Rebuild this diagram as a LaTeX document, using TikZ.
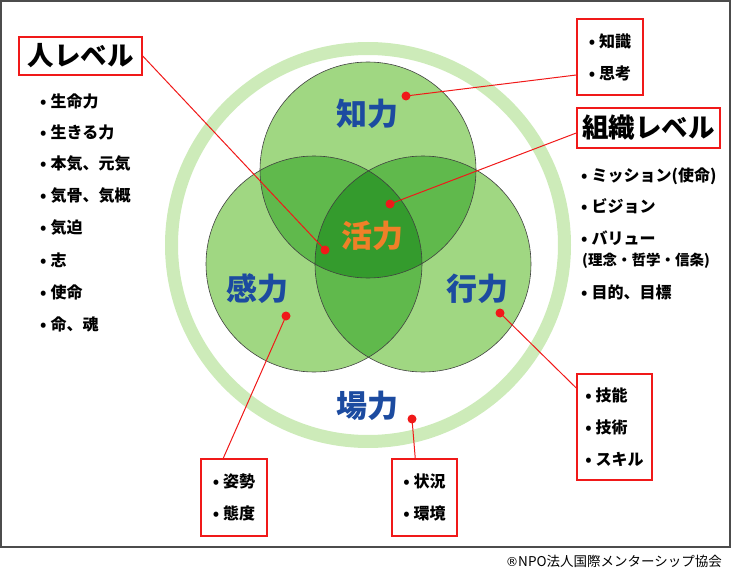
\documentclass[tikz,border=0pt]{standalone}
\usepackage{fontspec}
\newfontfamily\jp{Noto Sans CJK JP}[BoldFont={Noto Sans CJK JP Black}]
\newfontfamily\symfont{DejaVu Sans}
\newcommand{\bul}{•\hspace{4pt}}
\definecolor{kblue}{RGB}{28,75,160}
\definecolor{korange}{RGB}{240,128,40}
\definecolor{kred}{RGB}{240,25,25}
\definecolor{ringgreen}{RGB}{205,235,185}
\definecolor{lightgreen}{RGB}{160,215,130}
\definecolor{midgreen}{RGB}{96,185,76}
\definecolor{darkgreen}{RGB}{52,155,45}
\tikzset{
  redbox/.style={draw=kred, line width=1.5pt, align=left, inner sep=0pt},
  redline/.style={draw=kred, line width=1pt},
  reddot/.style={circle, fill=kred, inner sep=0pt, minimum size=9pt},
  power/.style={font=\jp\bfseries\fontsize{31}{31}\selectfont, text=kblue},
  level/.style={font=\jp\bfseries\fontsize{26.5}{26.5}\selectfont},
  item/.style={font=\jp\bfseries\fontsize{16}{32}\selectfont, anchor=west, inner sep=0pt},
  venn/.style={draw=black!75, line width=0.6pt}
}
\begin{document}
\begin{tikzpicture}[x=1pt,y=-1pt]
                \useasboundingbox (0,0) rectangle (732,586);
                \draw[gray!60!black, line width=1.3pt] (1,1) rectangle (730,547);
                % circles
                \coordinate (chi) at (368,170);
                \coordinate (kan) at (314,264);
                \coordinate (kou) at (423,264);
                \draw[ringgreen, line width=13pt] (368,245) circle [radius=196.5pt];
                \fill[lightgreen] (chi) circle [radius=108pt];
                \fill[lightgreen] (kan) circle [radius=108pt];
                \fill[lightgreen] (kou) circle [radius=108pt];
                \begin{scope}
                    \clip (chi) circle [radius=108pt];
                    \fill[midgreen] (kan) circle [radius=108pt];
                    \fill[midgreen] (kou) circle [radius=108pt];
                \end{scope}
                \begin{scope}
                    \clip (kan) circle [radius=108pt];
                    \fill[midgreen] (kou) circle [radius=108pt];
                \end{scope}
                \begin{scope}
                    \clip (chi) circle [radius=108pt];
                    \clip (kan) circle [radius=108pt];
                    \fill[darkgreen] (kou) circle [radius=108pt];
                \end{scope}
                \draw[venn] (chi) circle [radius=108pt];
                \draw[venn] (kan) circle [radius=108pt];
                \draw[venn] (kou) circle [radius=108pt];
                % labels in the circles
                \node[power] (chiryoku) at (367,114) {知力};
                \node[power, text=korange] (katsuryoku) at (372,236) {活力};
                \node[power] (kanryoku) at (257,289) {感力};
                \node[power] (kouryoku) at (477,289) {行力};
                \node[power] (baryoku) at (367,406) {場力};
                % boxes
                \node[redbox, level, minimum width=123pt, minimum height=38pt] (hito) at (80.5,56) {人レベル};
                \node[redbox, level, minimum width=143pt, minimum height=40pt] (soshiki) at (648.5,128) {組織レベル};
                \node[redbox, item, anchor=center, minimum width=66pt, minimum height=76pt] (chishiki) at (610,57) {\bul 知識\\\bul 思考};
                \node[redbox, item, anchor=center, minimum width=75pt, minimum height=106pt] (ginou) at (614.5,427) {\bul 技能\\\bul 技術\\\bul スキル};
                \node[redbox, item, anchor=center, minimum width=66pt, minimum height=77pt] (shisei) at (234,497.5) {\bul 姿勢\\\bul 態度};
                \node[redbox, item, anchor=center, minimum width=65pt, minimum height=77pt] (joukyou) at (424.5,497.5) {\bul 状況\\\bul 環境};
                % left list
                \node[item] (h1) at (40,101) {\bul 生命力};
                \node[item] (h2) at (40,132) {\bul 生きる力};
                \node[item] (h3) at (40,164) {\bul 本気、元気};
                \node[item] (h4) at (40,196) {\bul 気骨、気概};
                \node[item] (h5) at (40,228) {\bul 気迫};
                \node[item] (h6) at (40,260) {\bul 志};
                \node[item] (h7) at (40,292) {\bul 使命};
                \node[item] (h8) at (40,324) {\bul 命、魂};
                % right list
                \node[item] (s1) at (581,176) {\bul ミッション(使命)};
                \node[item] (s2) at (581,206) {\bul ビジョン};
                \node[item] (s3) at (581,238) {\bul バリュー};
                \node[item, font=\jp\bfseries\fontsize{14.5}{14.5}\selectfont] (s4) at (582,261) {(理念・哲学・信条)};
                \node[item] (s5) at (581,292) {\bul 目的、目標};
                % red dots and lines
                \node[reddot] (dchi) at (406,96) {};
                \node[reddot] (dkatsu1) at (390,204) {};
                \node[reddot] (dkatsu2) at (325,250) {};
                \node[reddot] (dkan) at (286,316) {};
                \node[reddot] (dkou) at (500,313) {};
                \node[reddot] (dba) at (412,419) {};
                \draw[redline] (hito.east) -- (dkatsu2.center);
                \draw[redline] ([yshift=-18pt]chishiki.west) -- (dchi.center);
                \draw[redline] ([yshift=-5pt]soshiki.west) -- (dkatsu1.center);
                \draw[redline] ([yshift=39pt]ginou.west) -- (dkou.center);
                \draw[redline] ([xshift=23pt]shisei.north west) -- (dkan.center);
                \draw[redline] ([xshift=24pt]joukyou.north west) -- (dba.center);
                % credit
                \node[font=\jp\fontsize{13.5}{13.5}\selectfont, anchor=east, inner sep=0pt] (credit) at (722,561) {{\symfont\fontsize{12.5}{12.5}\selectfont ®}NPO法人国際メンターシップ協会};
            \end{tikzpicture}
\end{document}
